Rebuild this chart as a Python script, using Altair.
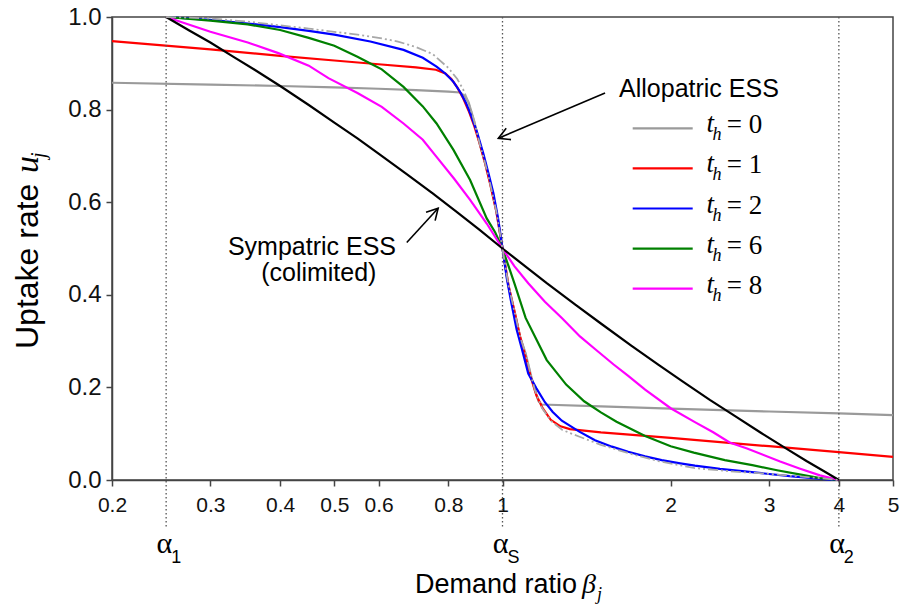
import math
import altair as alt
import pandas as pd

# ---------------- data ----------------
x_ticks = [0.2, 0.3, 0.4, 0.5, 0.6, 0.8, 1, 2, 3, 4, 5]
y_ticks = [0.0, 0.2, 0.4, 0.6, 0.8, 1.0]
alpha_pos = [0.25, 1.0, 4.0]
alpha_sub = ["1", "S", "2"]

b_t0 = [0.2, 0.3, 0.4, 0.5, 0.6, 0.7, 0.8, 0.84, 0.855, 0.87, 0.89, 0.91, 0.93, 0.95, 0.975, 1.0,
        1.025, 1.053, 1.075, 1.1, 1.125, 1.143, 1.16, 1.175, 1.5, 2.0, 3.0, 4.0, 5.0]
u_t0 = [0.858, 0.854, 0.851, 0.848, 0.845, 0.842, 0.839, 0.837, 0.83, 0.815, 0.775, 0.727, 0.686, 0.641, 0.58, 0.5,
        0.42, 0.359, 0.31, 0.273, 0.225, 0.194, 0.17, 0.163, 0.159, 0.154, 0.148, 0.144, 0.140]

b_t1 = [0.2, 0.3, 0.4, 0.5, 0.6, 0.7, 0.76, 0.79, 0.81, 0.83, 0.85, 0.87, 0.89, 0.91, 0.93, 0.95, 0.975, 1.0,
        1.025, 1.053, 1.075, 1.1, 1.125, 1.15, 1.18, 1.22, 1.27, 1.32, 1.5, 2.0, 3.0, 4.0, 5.0]
u_t1 = [0.948, 0.930, 0.916, 0.906, 0.898, 0.891, 0.886, 0.878, 0.866, 0.848, 0.825, 0.797, 0.765, 0.727, 0.686, 0.641, 0.58, 0.5,
        0.42, 0.359, 0.31, 0.265, 0.22, 0.183, 0.155, 0.13, 0.116, 0.11, 0.103, 0.091, 0.073, 0.060, 0.050]

b_t2 = [0.25, 0.3, 0.35, 0.4, 0.45, 0.5, 0.58, 0.665, 0.72, 0.762, 0.79, 0.817, 0.84, 0.86, 0.88, 0.9, 0.924, 0.945,
        0.963, 0.982, 1.0, 1.018, 1.038, 1.06, 1.082, 1.112, 1.15, 1.191, 1.23, 1.277, 1.37, 1.464, 1.57, 1.679,
        1.8, 1.927, 2.08, 2.21, 2.45, 2.74, 3.0, 3.3, 3.6, 3.85, 4.0]
u_t2 = [1.0, 0.994, 0.986, 0.978, 0.970, 0.962, 0.947, 0.929, 0.912, 0.893, 0.878, 0.860, 0.838, 0.815, 0.785, 0.752, 0.705, 0.66,
        0.62, 0.565, 0.5, 0.435, 0.38, 0.325, 0.285, 0.23, 0.198, 0.168, 0.147, 0.128, 0.105, 0.086, 0.072, 0.061,
        0.051, 0.043, 0.036, 0.031, 0.024, 0.018, 0.013, 0.008, 0.004, 0.001, 0.0]

b_t6 = [0.25, 0.3, 0.35, 0.4, 0.45, 0.5, 0.55, 0.579, 0.608, 0.665, 0.72, 0.762, 0.817, 0.875, 0.937, 0.97, 1.0,
        1.03, 1.05, 1.1, 1.2, 1.3, 1.4, 1.5, 1.6, 1.8, 2.0, 2.2, 2.5, 2.8, 3.1, 3.4, 3.7, 4.0]
u_t6 = [1.0, 0.992, 0.984, 0.972, 0.955, 0.938, 0.914, 0.900, 0.887, 0.849, 0.807, 0.770, 0.713, 0.648, 0.565, 0.535, 0.5,
        0.455, 0.425, 0.35, 0.259, 0.206, 0.170, 0.146, 0.126, 0.095, 0.073, 0.059, 0.043, 0.032, 0.021, 0.012, 0.004, 0.0]

b_t8 = [0.25, 0.3, 0.35, 0.397, 0.45, 0.488, 0.55, 0.608, 0.665, 0.72, 0.762, 0.82, 0.875, 0.937, 1.0,
        1.05, 1.112, 1.191, 1.277, 1.376, 1.464, 1.579, 1.679, 1.8, 2.0, 2.21, 2.383, 2.55, 2.74, 3.14, 3.4, 3.7, 4.0]
u_t8 = [1.0, 0.968, 0.945, 0.922, 0.895, 0.868, 0.836, 0.806, 0.770, 0.735, 0.698, 0.65, 0.605, 0.554, 0.5,
        0.462, 0.425, 0.385, 0.35, 0.31, 0.283, 0.25, 0.225, 0.195, 0.155, 0.125, 0.103, 0.081, 0.068, 0.04, 0.025, 0.01, 0.0]

b_sym = [0.25, 0.275, 0.3, 0.33, 0.36, 0.4, 0.45, 0.5, 0.55, 0.6, 0.67, 0.75, 0.83, 0.91, 1.0,
         1.1, 1.2, 1.35, 1.5, 1.7, 1.9, 2.1, 2.35, 2.6, 2.9, 3.2, 3.5, 3.75, 4.0]
u_sym = [1.0, 0.971, 0.945, 0.914, 0.886, 0.851, 0.810, 0.772, 0.738, 0.705, 0.663, 0.619, 0.578, 0.540, 0.5,
         0.461, 0.425, 0.379, 0.338, 0.290, 0.249, 0.213, 0.173, 0.139, 0.102, 0.070, 0.041, 0.020, 0.0]

b_env = [0.25, 0.3, 0.35, 0.4, 0.45, 0.5, 0.55, 0.6, 0.65, 0.7, 0.75, 0.8, 0.83, 0.85, 0.87, 0.89, 0.91, 0.93, 0.95,
         0.975, 1.0, 1.025, 1.053, 1.075, 1.1, 1.125, 1.143, 1.176, 1.22, 1.28, 1.37, 1.5, 1.68, 1.9, 2.2, 2.6,
         2.95, 3.3, 3.7, 4.0]
u_env = [1.0, 0.997, 0.99, 0.982, 0.975, 0.968, 0.962, 0.955, 0.947, 0.935, 0.92, 0.89, 0.866, 0.844, 0.815, 0.775, 0.727, 0.686, 0.641,
         0.58, 0.5, 0.42, 0.359, 0.31, 0.273, 0.225, 0.194, 0.156, 0.128, 0.108, 0.094, 0.076, 0.058, 0.041, 0.026, 0.018,
         0.014, 0.009, 0.004, 0.0]

series_names = ["t0", "t1", "t2", "t6", "t8", "sym"]
series_colors = ["#9a9a9a", "#ff0000", "#0000ff", "#008000", "#ff00ff", "#000000"]
legend_values = ["0", "1", "2", "6", "8"]

# ---------------- layout ----------------
W, H = 781, 463
SANS = "Liberation Sans"
SERIF = "Liberation Serif"
AX = "#444444"
LOG_SPAN = math.log10(5) - math.log10(0.2)


def to_px(b, u):
    return (math.log10(b) - math.log10(0.2)) / LOG_SPAN * W, (1 - u) * H


def from_px(px, py):
    return 0.2 * 10 ** (px / W * LOG_SPAN), 1 - py / H


rows = []
for name, bs, us in zip(series_names, [b_t0, b_t1, b_t2, b_t6, b_t8, b_sym],
                        [u_t0, u_t1, u_t2, u_t6, u_t8, u_sym]):
    for b, u in zip(bs, us):
        rows.append({"b": b, "u": u, "s": name})
df = pd.DataFrame(rows)
env = pd.DataFrame({"b": b_env, "u": u_env})

xs = alt.Scale(type="log", domain=[0.2, 5], nice=False)
ys = alt.Scale(domain=[0, 1], nice=False)
cs = alt.Scale(domain=series_names, range=series_colors)

x_axis = alt.Axis(values=x_ticks, format="~g", title=None, grid=False,
                  labelFont=SANS, labelFontSize=21, labelColor="#111",
                  tickColor=AX, domainColor=AX, tickSize=6, tickWidth=1.5,
                  domainWidth=1.5, labelPadding=8, labelFlush=False)
y_axis = alt.Axis(values=y_ticks, format=".1f", title=None, grid=False,
                  labelFont=SANS, labelFontSize=24, labelColor="#111",
                  tickColor=AX, domainColor=AX, tickSize=6, tickWidth=1.5,
                  domainWidth=1.5, labelPadding=5)


def XF(field):
    return alt.X(field, scale=xs, axis=x_axis)


def YF(field):
    return alt.Y(field, scale=ys, axis=y_axis)


lines = alt.Chart(df).mark_line(strokeWidth=2.2).encode(
    x=XF("b:Q"), y=YF("u:Q"),
    color=alt.Color("s:N", scale=cs, legend=None),
    detail="s:N",
)

# dotted alpha lines
rules = alt.Chart(pd.DataFrame({"b": alpha_pos})).mark_rule(
    color="#555", strokeDash=[1.5, 2.5], strokeWidth=1.3
).encode(x=XF("b:Q"), y=alt.value(0), y2=alt.value(510))

envelope = alt.Chart(env).mark_line(
    color="#a8a8a8", strokeWidth=1.8, strokeDash=[10, 3, 2, 3, 2, 3]
).encode(x=XF("b:Q"), y=YF("u:Q"))

# alpha labels under the axis
alpha_df = pd.DataFrame({"b": alpha_pos, "sub": alpha_sub})
alpha_main = alt.Chart(alpha_df).mark_text(
    text="α", font=SERIF, fontSize=30, align="right", baseline="alphabetic", dx=6
).encode(x=XF("b:Q"), y=alt.value(536))
alpha_subs = alt.Chart(alpha_df).mark_text(
    font=SANS, fontSize=18, align="left", baseline="alphabetic", dx=5
).encode(x=XF("b:Q"), y=alt.value(546), text="sub:N")

# annotations (data coordinates)
ann = pd.DataFrame({
    "b": [2.247, 0.456, 0.469],
    "u": [0.828, 0.486, 0.430],
    "t": ["Allopatric ESS", "Sympatric ESS", "(colimited)"],
})
ann_text = alt.Chart(ann).mark_text(font=SANS, fontSize=25, baseline="alphabetic", align="center").encode(
    x=XF("b:Q"), y=YF("u:Q"), text="t:N")

arrows = [((1.526, 0.836), (0.983, 0.738)), ((0.674, 0.513), (0.767, 0.587))]
arr_rows, head_rows = [], []
for i, (a, t) in enumerate(arrows):
    arr_rows.append({"b": a[0], "u": a[1], "a": i, "o": 0})
    arr_rows.append({"b": t[0], "u": t[1], "a": i, "o": 1})
    p0, p1 = to_px(*a), to_px(*t)
    ang = math.degrees(math.atan2(p1[1] - p0[1], p1[0] - p0[0])) % 360
    head_rows.append({"b": t[0], "u": t[1], "ang": ang})
arrow_lines = alt.Chart(pd.DataFrame(arr_rows)).mark_line(color="black", strokeWidth=1.6).encode(
    x=XF("b:Q"), y=YF("u:Q"), detail="a:N", order="o:Q")
arrow_heads = alt.Chart(pd.DataFrame(head_rows)).mark_point(
    shape="M-1,-0.55L0,0L-1,0.55", filled=False, color="black", strokeWidth=1.6, size=500, opacity=1
).encode(x=XF("b:Q"), y=YF("u:Q"), angle=alt.Angle("ang:Q", scale=None))

# custom legend, placed in data coordinates
leg_rows = []
for i, (s, v) in enumerate(zip(series_names[:5], legend_values)):
    py = 111.3 + 40.1 * i
    b0, u0 = from_px(520.7, py)
    b1, _ = from_px(580.7, py)
    bt, _ = from_px(594.5, py)
    bh, _ = from_px(600.5, py)
    bv, _ = from_px(614.7, py)
    leg_rows.append({"s": s, "v": "= " + v, "u": u0, "b0": b0, "b1": b1, "bt": bt, "bh": bh, "bv": bv})
leg = pd.DataFrame(leg_rows)
leg_lines = alt.Chart(leg).mark_rule(strokeWidth=2.2).encode(
    x=XF("b0:Q"), x2="b1:Q", y=YF("u:Q"),
    color=alt.Color("s:N", scale=cs, legend=None))
leg_t = alt.Chart(leg).mark_text(text="t", font=SERIF, fontStyle="italic", fontSize=27,
                                 align="left", baseline="alphabetic", dy=4).encode(
    x=XF("bt:Q"), y=YF("u:Q"))
leg_h = alt.Chart(leg).mark_text(text="h", font=SERIF, fontStyle="italic", fontSize=18,
                                 align="left", baseline="alphabetic", dy=12).encode(
    x=XF("bh:Q"), y=YF("u:Q"))
leg_v = alt.Chart(leg).mark_text(font=SERIF, fontSize=27, align="left", baseline="alphabetic", dy=5).encode(
    x=XF("bv:Q"), y=YF("u:Q"), text="v:N")


# axis titles (custom, with italic symbols)
def label(text, x, y, font, size, style="normal", angle=0, align="left"):
    return alt.Chart(pd.DataFrame({"t": [text]})).mark_text(
        font=font, fontSize=size, fontStyle=style, align=align, baseline="alphabetic", angle=angle
    ).encode(x=alt.value(x), y=alt.value(y), text="t:N")


xt1 = label("Demand ratio", 465, 576, SANS, 27, align="right")
xt2 = label("β", 470, 576, SERIF, 28, style="italic")
xt3 = label("j", 485, 583, SERIF, 18, style="italic")
yt1 = label("Uptake rate", -74, 332, SANS, 32, angle=270)
yt2 = label("u", -74, 156, SERIF, 34, style="italic", angle=270)
yt3 = label("j", -67, 141, SERIF, 20, style="italic", angle=270)

chart = alt.layer(
    lines, rules, envelope, arrow_lines, arrow_heads, ann_text,
    alpha_main, alpha_subs, leg_lines, leg_t, leg_h, leg_v,
    xt1, xt2, xt3, yt1, yt2, yt3,
).properties(
    width=W, height=H,
    padding={"left": 112, "top": 17, "right": 9, "bottom": 128},
    autosize="none",
    background="white",
).configure_view(stroke=AX, strokeWidth=1.5)

chart.save("out.html", embed_options={"renderer": "svg", "actions": False})
